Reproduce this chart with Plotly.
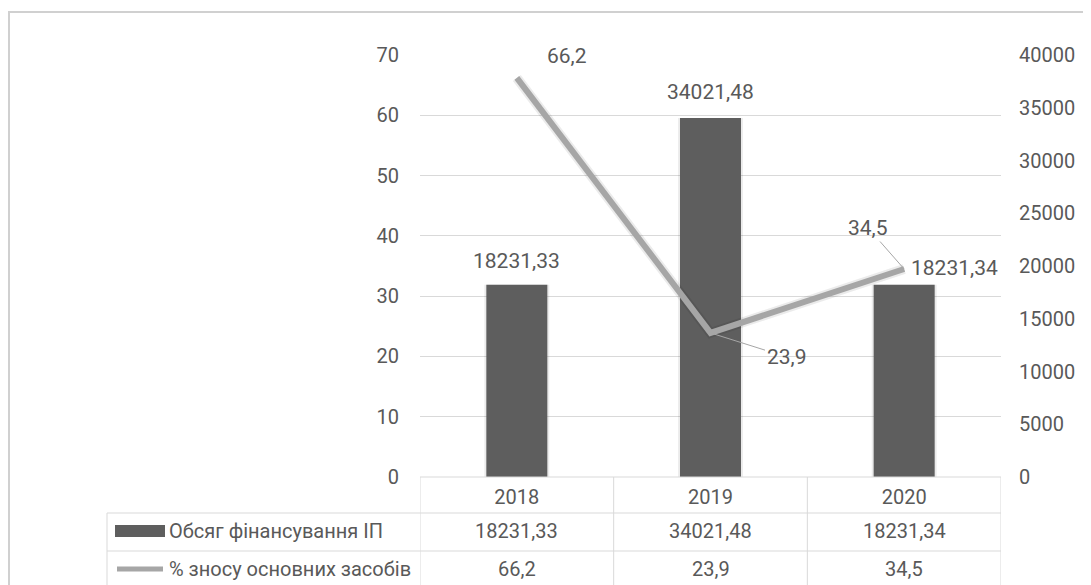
import plotly.graph_objects as go

years = ["2018", "2019", "2020"]
funding = [18231.33, 34021.48, 18231.34]
wear_pct = [66.2, 23.9, 34.5]
series_names = ["Обсяг фінансування ІП", "% зносу основних засобів"]
left_ticks = [0, 10, 20, 30, 40, 50, 60, 70]
right_ticks = [0, 5000, 10000, 15000, 20000, 25000, 30000, 35000, 40000]

FONT = "Roboto"
TXT = "#595959"
GRID = "#d9d9d9"
BAR = "#5e5e5e"
LINE = "#a6a6a6"
FS = 20
FSL = 21

OFF = 8  # page body margin
W, H = 1091 - OFF, 585 - OFF
L, R, T, B = 412, 90, 47, 108
PW, PH = W - L - R, H - T - B


def px_x(p):
    return (p - OFF - L) / PW


def px_y(p):
    return (H - B - (p - OFF)) / PH


def fmt(v, d):
    return f"{v:.{d}f}".replace(".", ",")


idx = list(range(len(years)))

fig = go.Figure()

# bars on primary axis (right side), line on overlaying axis (left side) so it is drawn on top
fig.add_trace(go.Bar(x=years, y=funding, yaxis="y", width=0.335,
                     marker=dict(color="rgba(0,0,0,0.08)", line=dict(width=0)),
                     hoverinfo="skip", showlegend=False))
fig.add_trace(go.Bar(x=years, y=funding, yaxis="y", width=0.315, name=series_names[0],
                     marker=dict(color=BAR, line=dict(width=0)), showlegend=False))
fig.add_trace(go.Scatter(x=years, y=wear_pct, yaxis="y2", mode="lines",
                         line=dict(color="rgba(0,0,0,0.08)", width=10),
                         hoverinfo="skip", showlegend=False))
fig.add_trace(go.Scatter(x=years, y=wear_pct, yaxis="y2", mode="lines", name=series_names[1],
                         line=dict(color=LINE, width=6), showlegend=False))

ann = []
lab = dict(family=FONT, size=FSL, color=TXT)
# bar labels
ann.append(dict(x=idx[0], y=funding[0], yref="y", text=fmt(funding[0], 2), showarrow=False,
                yanchor="bottom", yshift=10, font=lab))
ann.append(dict(x=idx[1], y=funding[1], yref="y", text=fmt(funding[1], 2), showarrow=False,
                yanchor="bottom", yshift=12, font=lab))
ann.append(dict(x=idx[2], y=funding[2], yref="y", text=fmt(funding[2], 2), showarrow=False,
                xanchor="left", yanchor="middle", xshift=5, yshift=17, font=lab))
# line labels
ann.append(dict(x=idx[0], y=wear_pct[0], yref="y2", text=fmt(wear_pct[0], 1), showarrow=False,
                xanchor="left", yanchor="middle", xshift=28, yshift=22, font=lab))
ann.append(dict(x=idx[1], y=wear_pct[1], yref="y2", text=fmt(wear_pct[1], 1), showarrow=True,
                arrowhead=0, arrowwidth=1, arrowcolor=LINE, ax=76, ay=24, font=lab))
ann.append(dict(x=idx[2], y=wear_pct[2], yref="y2", text=fmt(wear_pct[2], 1), showarrow=True,
                arrowhead=0, arrowwidth=1, arrowcolor=LINE, ax=-36, ay=-41, font=lab))

# table cells
row_y = [531, 569]
cell = dict(family=FONT, size=FS, color=TXT)
for i in idx:
    ann.append(dict(x=i, y=px_y(row_y[0]), yref="paper", text=fmt(funding[i], 2),
                    showarrow=False, yanchor="middle", xanchor="center", font=cell))
    ann.append(dict(x=i, y=px_y(row_y[1]), yref="paper", text=fmt(wear_pct[i], 1),
                    showarrow=False, yanchor="middle", xanchor="center", font=cell))
# legend labels
for name, yy in zip(series_names, row_y):
    ann.append(dict(x=px_x(167), y=px_y(yy), xref="paper", yref="paper", text=name,
                    showarrow=False, xanchor="left", yanchor="middle", font=cell))

for a in ann:
    a.setdefault("xref", "x")
fig.update_layout(annotations=ann)

shapes = []
line_style = dict(color=GRID, width=1)
# outer frame
shapes.append(dict(type="rect", xref="paper", yref="paper", x0=px_x(9), x1=px_x(1100),
                   y0=px_y(600), y1=px_y(12), line=dict(color="#d0d0d0", width=2), layer="below"))
# table horizontal lines
shapes.append(dict(type="line", xref="paper", yref="paper", x0=0, x1=1, y0=0, y1=0, line=line_style))
for yy in [513, 551]:
    shapes.append(dict(type="line", xref="paper", yref="paper", x0=px_x(107), x1=1,
                       y0=px_y(yy), y1=px_y(yy), line=line_style))
# table vertical lines
for xv in [-0.5, 0.5, 1.5, 2.5]:
    shapes.append(dict(type="line", xref="x", yref="paper", x0=xv, x1=xv,
                       y0=0, y1=px_y(600), line=line_style))
shapes.append(dict(type="line", xref="paper", yref="paper", x0=px_x(107), x1=px_x(107),
                   y0=px_y(513), y1=px_y(600), line=line_style))
# legend keys
shapes.append(dict(type="rect", xref="paper", yref="paper", x0=px_x(115), x1=px_x(165),
                   y0=px_y(537), y1=px_y(525), fillcolor=BAR, line=dict(width=0)))
shapes.append(dict(type="line", xref="paper", yref="paper", x0=px_x(117), x1=px_x(163),
                   y0=px_y(569), y1=px_y(569), line=dict(color=LINE, width=5)))
fig.update_layout(shapes=shapes)

fig.update_layout(
    width=W, height=H,
    margin=dict(l=L, r=R, t=T, b=B, autoexpand=False),
    paper_bgcolor="white", plot_bgcolor="white",
    barmode="overlay",
    font=dict(family=FONT, size=FS, color=TXT),
    xaxis=dict(type="category", range=[-0.5, 2.5], showgrid=False, showline=False,
               ticks="", tickfont=dict(family=FONT, size=FS, color=TXT), ticklabelstandoff=6),
    yaxis=dict(range=[0, 40000], tickvals=right_ticks, ticktext=[str(t) for t in right_ticks],
               side="right", showgrid=False, zeroline=False, showline=False, ticks="",
               ticklabelstandoff=17, tickfont=dict(family=FONT, size=FS, color=TXT)),
    yaxis2=dict(range=[0, 70], tickvals=left_ticks, overlaying="y", side="left",
                showgrid=True, gridcolor=GRID, gridwidth=1,
                zeroline=False, showline=False, ticks="", ticklabelstandoff=20,
                tickfont=dict(family=FONT, size=FS, color=TXT)),
)

fig.write_html("out.html")
